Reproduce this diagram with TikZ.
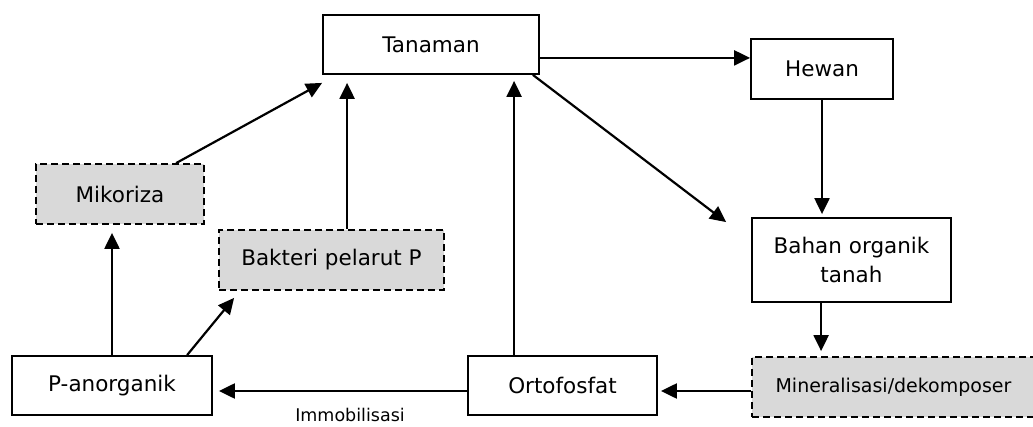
\documentclass[tikz,border=0pt]{standalone}
\usepackage{fontspec}
\setmainfont{DejaVu Sans}
\usetikzlibrary{arrows.meta,calc}
\definecolor{boxgray}{HTML}{D9D9D9}
\begin{document}
\begin{tikzpicture}[x=1pt,y=-1pt,
  box/.style={draw,line width=1.8pt,minimum height=60pt,inner sep=0pt,
    font=\fontsize{21.5}{29}\selectfont,align=center},
  dbox/.style={box,dash pattern=on 7pt off 4pt,fill=boxgray},
  arr/.style={line width=2.2pt,-{Triangle[length=16pt,width=15pt]}}]
\useasboundingbox (0,0) rectangle (1033,427);
\node[box,minimum width=216pt,minimum height=59pt] (tan) at (431,44.5) {Tanaman};
\node[box,minimum width=142pt] (hew) at (822,69) {Hewan};
\node[box,minimum width=199pt,minimum height=84pt] (bah) at (851.5,260) {Bahan organik\\tanah};
\node[dbox,minimum width=283pt,font=\fontsize{19}{23}\selectfont] (min) at (893.5,387) {Mineralisasi/dekomposer};
\node[box,minimum width=189pt,minimum height=59pt] (ort) at (562.5,385.5) {Ortofosfat};
\node[box,minimum width=200pt,minimum height=59pt] (pan) at (112,385.5) {P-anorganik};
\node[dbox,minimum width=225pt] (bak) at (331.5,260) {Bakteri pelarut P};
\node[dbox,minimum width=168pt] (mik) at (120,194) {Mikoriza};
\node[font=\fontsize{17.5}{20}\selectfont,anchor=base,inner sep=0pt] (imm) at (350,421) {Immobilisasi};

\draw[arr] ($(tan.south east)+(0,-17)$) coordinate (t1) -- (t1 -| hew.west);
\draw[arr] ($(tan.south east)+(-7,0)$) -- ($(bah.north west)+(-25,5)$);
\draw[arr,shorten >=3pt] (hew.south) -- (hew.south |- bah.north);
\draw[arr] ($(bah.south west)+(70,0)$) coordinate (b1) -- ($(b1 |- min.north)+(0,-5)$);
\draw[arr] ($(min.west)+(0,4)$) coordinate (m1) -- ($(m1 -| ort.east)+(3,0)$);
\draw[arr] ($(ort.north west)+(47,0)$) coordinate (o1) -- ($(o1 |- tan.south)+(0,6)$);
\draw[arr] ($(ort.west)+(0,5.5)$) coordinate (o2) -- ($(o2 -| pan.east)+(6,0)$);
\draw[arr] (pan.north) -- ($(pan.north |- mik.south)+(0,8)$);
\draw[arr] ($(pan.north west)+(176,0)$) -- ($(bak.south west)+(16,7)$);
\draw[arr] ($(bak.north west)+(129,0)$) coordinate (k1) -- ($(k1 |- tan.south)+(0,8)$);
\draw[arr] ($(mik.north west)+(141,0)$) -- ($(tan.south west)+(0,8)$);
\end{tikzpicture}
\end{document}
